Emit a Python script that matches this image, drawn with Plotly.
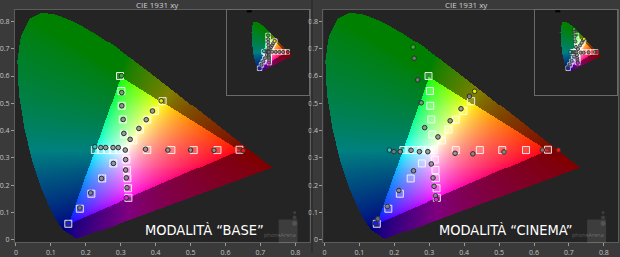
import numpy as np
import plotly.graph_objects as go

W, H = 620, 257

# CIE 1931 2-degree spectral locus (380-700 nm, 5 nm steps)
locus_x = [0.1741, 0.1740, 0.1738, 0.1736, 0.1733, 0.1730, 0.1726, 0.1721, 0.1714, 0.1703,
           0.1689, 0.1669, 0.1644, 0.1611, 0.1566, 0.1510, 0.1440, 0.1355, 0.1241, 0.1096,
           0.0913, 0.0687, 0.0454, 0.0235, 0.0082, 0.0039, 0.0139, 0.0389, 0.0743, 0.1142,
           0.1547, 0.1929, 0.2296, 0.2658, 0.3016, 0.3373, 0.3731, 0.4087, 0.4441, 0.4788,
           0.5125, 0.5448, 0.5752, 0.6029, 0.6270, 0.6482, 0.6658, 0.6801, 0.6915, 0.7006,
           0.7079, 0.7140, 0.7190, 0.7230, 0.7260, 0.7283, 0.7300, 0.7311, 0.7320, 0.7334,
           0.7344, 0.7347]
locus_y = [0.0050, 0.0050, 0.0049, 0.0049, 0.0048, 0.0048, 0.0048, 0.0048, 0.0051, 0.0058,
           0.0069, 0.0086, 0.0109, 0.0138, 0.0177, 0.0227, 0.0297, 0.0399, 0.0578, 0.0868,
           0.1327, 0.2007, 0.2950, 0.4127, 0.5384, 0.6548, 0.7502, 0.8120, 0.8338, 0.8262,
           0.8059, 0.7816, 0.7543, 0.7243, 0.6923, 0.6589, 0.6245, 0.5896, 0.5547, 0.5202,
           0.4866, 0.4544, 0.4242, 0.3965, 0.3725, 0.3514, 0.3340, 0.3197, 0.3083, 0.2993,
           0.2920, 0.2859, 0.2809, 0.2770, 0.2740, 0.2717, 0.2700, 0.2689, 0.2680, 0.2666,
           0.2656, 0.2653]

channels = ["Red", "Yellow", "Green", "Cyan", "Blue", "Magenta"]

# target (squares) - same for both modes; 20..100% saturation
target_x = [[0.376, 0.445, 0.509, 0.577, 0.640],
            [0.336, 0.355, 0.376, 0.398, 0.420],
            [0.309, 0.306, 0.303, 0.302, 0.298],
            [0.296, 0.278, 0.261, 0.243, 0.226],
            [0.279, 0.247, 0.216, 0.183, 0.150],
            [0.316, 0.318, 0.319, 0.321, 0.322]]
target_y = [[0.329, 0.329, 0.329, 0.329, 0.330],
            [0.364, 0.404, 0.440, 0.472, 0.508],
            [0.386, 0.441, 0.491, 0.545, 0.600],
            [0.329, 0.329, 0.329, 0.329, 0.329],
            [0.280, 0.225, 0.169, 0.114, 0.059],
            [0.294, 0.256, 0.226, 0.189, 0.154]]
target_white = [0.313, 0.329]

# measured - "BASE"
base_x = [[0.371, 0.435, 0.500, 0.567, 0.651],
          [0.327, 0.352, 0.373, 0.391, 0.416],
          [0.309, 0.307, 0.303, 0.303, 0.302],
          [0.293, 0.278, 0.257, 0.243, 0.226],
          [0.279, 0.245, 0.214, 0.183, 0.150],
          [0.314, 0.314, 0.316, 0.318, 0.316]]
base_y = [[0.332, 0.329, 0.329, 0.328, 0.327],
          [0.368, 0.408, 0.440, 0.472, 0.509],
          [0.390, 0.441, 0.491, 0.539, 0.601],
          [0.338, 0.338, 0.338, 0.338, 0.341],
          [0.280, 0.225, 0.172, 0.117, 0.060],
          [0.294, 0.256, 0.227, 0.191, 0.154]]
base_white = [0.313, 0.329]

# measured - "CINEMA"
cinema_x = [[0.374, 0.425, 0.514, 0.624, 0.670],
            [0.325, 0.360, 0.391, 0.415, 0.430],
            [0.287, 0.277, 0.267, 0.257, 0.254],
            [0.272, 0.248, 0.217, 0.199, 0.186],
            [0.255, 0.213, 0.180, 0.153, 0.146],
            [0.306, 0.311, 0.314, 0.318, 0.320]]
cinema_y = [[0.317, 0.315, 0.322, 0.329, 0.329],
            [0.377, 0.436, 0.480, 0.526, 0.544],
            [0.411, 0.502, 0.586, 0.665, 0.706],
            [0.323, 0.328, 0.323, 0.323, 0.329],
            [0.253, 0.181, 0.122, 0.078, 0.061],
            [0.278, 0.227, 0.196, 0.161, 0.148]]
cinema_white = [0.296, 0.323]

tick_vals = [0, 0.1, 0.2, 0.3, 0.4, 0.5, 0.6, 0.7, 0.8]
tick_text = ["0", "0.1", "0.2", "0.3", "0.4", "0.5", "0.6", "0.7", "0.8"]

panel_titles = ["CIE 1931 xy", "CIE 1931 xy"]
mode_labels = ["MODALITÀ \u201cBASE\u201d", "MODALITÀ \u201cCINEMA\u201d"]

full_colors = {"Red": "#ff1010", "Yellow": "#e8e800", "Green": "#20c020",
               "Cyan": "#20d0d0", "Blue": "#1818ff", "Magenta": "#e020e0"}


def in_poly(px, py, vx, vy):
    res = np.zeros(px.shape, dtype=bool)
    n = len(vx)
    j = n - 1
    for i in range(n):
        xi, yi, xj, yj = vx[i], vy[i], vx[j], vy[j]
        dy = (yj - yi) if yj != yi else 1e-12
        cond = ((yi > py) != (yj > py)) & (px < (xj - xi) * (py - yi) / dy + xi)
        res ^= cond
        j = i
    return res


def gamut_image(dx, dy, gamma=0.65, dim=0.5):
    xs = np.arange(0.0, 0.745, dx) + dx / 2
    ys = np.arange(0.0, 0.84, dy) + dy / 2
    X, Y = np.meshgrid(xs, ys)
    Yc = np.maximum(Y, 1e-6)
    XX = X / Yc
    ZZ = (1 - X - Y) / Yc
    r = 3.2406 * XX - 1.5372 - 0.4986 * ZZ
    g = -0.9689 * XX + 1.8758 + 0.0415 * ZZ
    b = 0.0557 * XX - 0.2040 + 1.0570 * ZZ
    rgb = np.stack([r, g, b], axis=-1)
    tri = (rgb >= 0).all(axis=-1)
    rgb = np.clip(rgb, 0, None)
    m = rgb.max(axis=-1, keepdims=True)
    m[m == 0] = 1
    rgb = (rgb / m) ** gamma
    rgb = np.where(tri[..., None], rgb, rgb * dim)
    vx = locus_x + [locus_x[0]]
    vy = locus_y + [locus_y[0]]
    inside = in_poly(X, Y, vx, vy)
    z = np.zeros(X.shape + (4,), dtype=int)
    z[..., :3] = np.round(rgb * 255).astype(int)
    z[..., 3] = inside.astype(int)
    return z.tolist(), float(xs[0]), float(ys[0])


fig = go.Figure()

main_img = gamut_image(1 / 351.0, 1 / 277.5)
inset_img = gamut_image(1 / 113.0, 1 / 123.0)


def px_dom_x(a, b):
    return [a / W, b / W]


def px_dom_y(top, bottom):
    return [(H - bottom) / H, (H - top) / H]


panels = [
    dict(off=0, meas_x=base_x, meas_y=base_y, white=base_white, label_x=141),
    dict(off=310, meas_x=cinema_x, meas_y=cinema_y, white=cinema_white, label_x=436),
]

layout_axes = {}
for p, pan in enumerate(panels):
    off = pan["off"]
    mi = 2 * p + 1   # main axis index
    ii = 2 * p + 2   # inset axis index
    for idx, is_inset in ((mi, False), (ii, True)):
        xa = "x" if idx == 1 else f"x{idx}"
        ya = "y" if idx == 1 else f"y{idx}"
        z, x0, y0 = inset_img if is_inset else main_img
        dxv = 1 / 113.0 if is_inset else 1 / 351.0
        dyv = 1 / 123.0 if is_inset else 1 / 277.5
        fig.add_trace(go.Image(z=z, colormodel="rgba", x0=x0, dx=dxv, y0=y0, dy=dyv,
                               xaxis=xa, yaxis=ya, hoverinfo="skip"))
        sq_x = [v for row in target_x for v in row] + [target_white[0]]
        sq_y = [v for row in target_y for v in row] + [target_white[1]]
        s_sq = 4.5 if is_inset else 7
        s_ci = 3.2 if is_inset else 4.6
        lw = 0.8 if is_inset else 1.0
        fig.add_trace(go.Scatter(x=sq_x, y=sq_y, mode="markers", xaxis=xa, yaxis=ya,
                                 marker=dict(symbol="square", size=s_sq,
                                             color="rgba(255,255,255,0.16)",
                                             line=dict(color="rgba(255,255,255,0.85)", width=lw)),
                                 hoverinfo="skip", showlegend=False))
        gx, gy, cx, cy, cc = [], [], [], [], []
        for c, name in enumerate(channels):
            for k in range(5):
                if k == 4:
                    cx.append(pan["meas_x"][c][k]); cy.append(pan["meas_y"][c][k])
                    cc.append(full_colors[name])
                else:
                    gx.append(pan["meas_x"][c][k]); gy.append(pan["meas_y"][c][k])
        gx.append(pan["white"][0]); gy.append(pan["white"][1])
        fig.add_trace(go.Scatter(x=gx, y=gy, mode="markers", xaxis=xa, yaxis=ya,
                                 marker=dict(symbol="circle", size=s_ci,
                                             color="rgba(130,130,130,0.75)",
                                             line=dict(color="#2e2e2e", width=lw)),
                                 hoverinfo="skip", showlegend=False))
        fig.add_trace(go.Scatter(x=cx, y=cy, mode="markers", xaxis=xa, yaxis=ya,
                                 marker=dict(symbol="circle", size=s_ci, color=cc,
                                             line=dict(color="#2e2e2e", width=lw)),
                                 hoverinfo="skip", showlegend=False))

    xk = "xaxis" if mi == 1 else f"xaxis{mi}"
    yk = "yaxis" if mi == 1 else f"yaxis{mi}"
    common = dict(showgrid=False, zeroline=False, showline=True, linecolor="#5c5c5c",
                  linewidth=1, mirror=True, ticks="outside", ticklen=3, tickwidth=1,
                  tickcolor="#9a9a9a", tickvals=tick_vals, ticktext=tick_text,
                  tickfont=dict(family="Open Sans, sans-serif", size=7, color="#c4c4c4"))
    layout_axes[xk] = dict(common, domain=px_dom_x(12 + off, 308 + off),
                           range=[-0.0028, 0.8405], anchor="y" if mi == 1 else f"y{mi}")
    layout_axes[yk] = dict(common, domain=px_dom_y(10, 246), range=[-0.0083, 0.8422],
                           anchor="x" if mi == 1 else f"x{mi}", scaleanchor=False)
    ins = dict(showgrid=False, zeroline=False, showline=True, linecolor="#6a6a6a",
               linewidth=1, mirror=True, showticklabels=False, ticks="")
    layout_axes[f"xaxis{ii}"] = dict(ins, domain=px_dom_x(225 + off, 307 + off),
                                     range=[-0.431, 1.018], anchor=f"y{ii}")
    layout_axes[f"yaxis{ii}"] = dict(ins, domain=px_dom_y(10, 96), range=[-0.374, 1.024],
                                     anchor=f"x{ii}", scaleanchor=False)

annotations = []
shapes = []
for p, pan in enumerate(panels):
    off = pan["off"]
    annotations.append(dict(text=panel_titles[p], x=(155.5 + off) / W, y=(H - 5) / H,
                            xref="paper", yref="paper", showarrow=False,
                            xanchor="center", yanchor="middle",
                            font=dict(family="Open Sans, sans-serif", size=8, color="#d0d0d0")))
    # watermark
    shapes.append(dict(type="rect", xref="paper", yref="paper",
                       x0=(277 + off) / W, x1=(296 + off) / W,
                       y0=(H - 247) / H, y1=(H - 223) / H,
                       fillcolor="rgba(190,190,190,0.16)", line=dict(width=0)))
    for cyp, rr in ((216, 1.5), (221, 2), (227, 2.5)):
        shapes.append(dict(type="circle", xref="paper", yref="paper",
                           x0=(293 - rr + off) / W, x1=(293 + rr + off) / W,
                           y0=(H - cyp - rr) / H, y1=(H - cyp + rr) / H,
                           fillcolor="rgba(190,190,190,0.18)", line=dict(width=0)))
    annotations.append(dict(text="phoneArena", x=(296 + off) / W, y=(H - 239) / H,
                            xref="paper", yref="paper", showarrow=False,
                            xanchor="right", yanchor="middle",
                            font=dict(family="Open Sans, sans-serif", size=5.5,
                                      color="rgba(200,200,200,0.35)")))
    annotations.append(dict(text=mode_labels[p], x=pan["label_x"] / W, y=(H - 234) / H,
                            xref="paper", yref="paper", showarrow=False,
                            xanchor="left", yanchor="middle",
                            font=dict(family="Liberation Sans Narrow, DejaVu Sans Condensed, Roboto, sans-serif",
                                      size=14.5, color="#ffffff")))
    shapes.append(dict(type="line", xref="paper", yref="paper",
                       x0=(245 + off) / W, x1=(250 + off) / W,
                       y0=(H - 11.5) / H, y1=(H - 11.5) / H,
                       line=dict(color="#000000", width=2)))

shapes.append(dict(type="line", xref="paper", yref="paper", x0=310.5 / W, x1=310.5 / W,
                   y0=0, y1=1, line=dict(color="#262626", width=1)))

fig.update_layout(width=W, height=H, autosize=False, margin=dict(l=0, r=0, t=0, b=0),
                  paper_bgcolor="#3a3a3a", plot_bgcolor="#242424", showlegend=False,
                  annotations=annotations, shapes=shapes, **layout_axes)

fig.write_html("out.html")
